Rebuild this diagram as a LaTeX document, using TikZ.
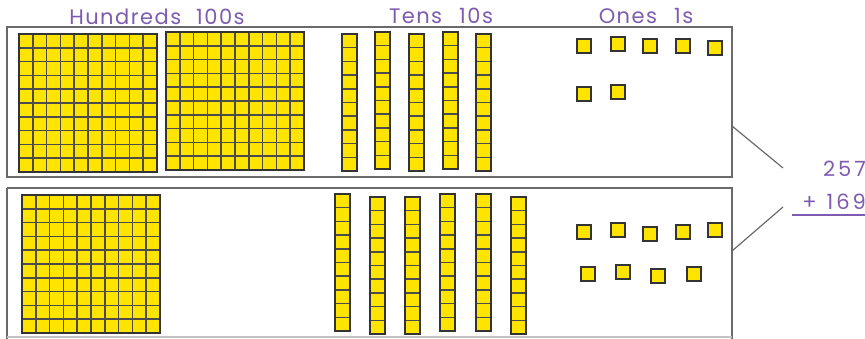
\documentclass[tikz,border=0pt]{standalone}
\usepackage{fontspec}
\newfontfamily\handfont[LetterSpace=7]{Poppins}
\newfontfamily\sumfont[LetterSpace=14]{Poppins}
\usetikzlibrary{positioning}
\definecolor{baseyellow}{HTML}{FFE400}
\definecolor{labelpurple}{HTML}{7E5BB0}
\definecolor{framegray}{HTML}{6A6A6A}

\begin{document}
\begin{tikzpicture}[x=1pt, y=-1pt,
  unitcell/.style={draw=black!80, fill=baseyellow, line width=1.4pt},
  gridline/.style={draw=black!70, line width=1.5pt},
  tray/.style={draw=framegray, line width=1.4pt},
  placelabel/.style={text=labelpurple, inner sep=0pt, font=\handfont\fontsize{21}{21}\selectfont},
  sumtext/.style={text=labelpurple, inner sep=0pt, font=\sumfont\fontsize{21}{21}\selectfont}]
  \useasboundingbox (0,0) rectangle (865,339);

  % ---------- trays ----------
  \draw[tray] (7,27) rectangle (732,177);
  \draw[tray] (7,188) -- (732,188) -- (732,339);
  \draw[tray] (7,188) -- (7,339);
  \draw[tray, draw=framegray!40] (7,337) -- (732,337);

  % ---------- column headings ----------
  \node[placelabel] (hundreds) at (157,17) {Hundreds\hspace{15pt}100s};
  \node[placelabel] (tens) at (441,16) {Tens\hspace{17pt}10s};
  \node[placelabel] (ones) at (646,16) {Ones\hspace{17pt}1s};

  % ---------- hundreds (flats of 10x10) ----------
  \foreach \fx/\fy in {19/34, 166/32, 22/195}{
    \begin{scope}[shift={(\fx,\fy)}]
      \fill[baseyellow] (0,0) rectangle (138,138);
      \foreach \k in {1,...,9}{
        \draw[gridline] ({13.8*\k},0) -- ({13.8*\k},138);
        \draw[gridline] (0,{13.8*\k}) -- (138,{13.8*\k});
      }
      \draw[unitcell, fill=none] (0,0) rectangle (138,138);
    \end{scope}
  }

  % ---------- tens (rods of 10) ----------
  \foreach \rx/\ry in {342/34, 375/32, 409/34, 443/32, 476/34,
                       335/194, 370/197, 405/197, 440/194, 476/194, 511/197}{
    \fill[baseyellow] (\rx,\ry) rectangle ++(15,137);
    \foreach \k in {1,...,9}
      \draw[gridline] (\rx,{\ry+13.7*\k}) -- ++(15,0);
    \draw[unitcell, fill=none] (\rx,\ry) rectangle ++(15,137);
  }

  % ---------- ones (single cubes) ----------
  \foreach \cx/\cy in {577/39, 611/37, 643/39, 676/39, 708/41, 577/87, 611/85,
                       577/225, 611/223, 643/227, 676/225, 708/223,
                       581/267, 616/265, 651/269, 687/267}{
    \draw[unitcell] (\cx,\cy) rectangle ++(14,14);
  }

  % ---------- the sum ----------
  \node[sumtext, anchor=east] (topnum) at (866,169) {257};
  \node[sumtext, anchor=east] (botnum) at (866,202) {+\hspace{10pt}169};
  \coordinate (rulestart) at (792,215);
  \coordinate (ruleend) at (865,215);
  \draw[labelpurple, line width=1.2pt] (rulestart) -- (ruleend);

  % connectors from the trays to the numbers
  \coordinate (topjoin) at (732,126);
  \coordinate (topend) at (783,168);
  \coordinate (botjoin) at (732,251);
  \coordinate (botend) at (783,207);
  \draw[tray, line width=1.2pt] (topjoin) -- (topend);
  \draw[tray, line width=1.2pt] (botjoin) -- (botend);
\end{tikzpicture}
\end{document}
